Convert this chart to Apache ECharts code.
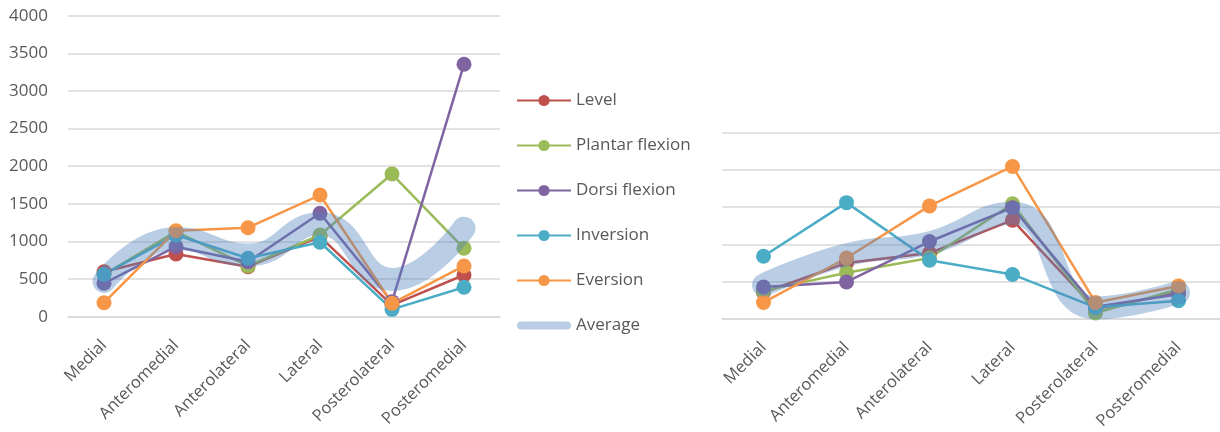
<!DOCTYPE html>
<html>
<head>
<meta charset="utf-8">
<script src="https://cdn.jsdelivr.net/npm/echarts@6/dist/echarts.min.js"></script>
<style>
  html, body { margin: 0; padding: 0; background: #fff; }
  #chart { width: 1220px; height: 432px; }
</style>
</head>
<body>
<div id="chart"></div>
<script>
// 分区名称
const categories = ['Medial', 'Anteromedial', 'Anterolateral', 'Lateral', 'Posterolateral', 'Posteromedial']
const seriesNames = ['Level', 'Plantar flexion', 'Dorsi flexion', 'Inversion', 'Eversion', 'Average']
const leftTicks = [0, 500, 1000, 1500, 2000, 2500, 3000, 3500, 4000]

// 左图数据
const leftLevel = [598, 833, 665, 1063, 155, 554]
const leftPlantar = [560, 1130, 676, 1086, 1896, 909]
const leftDorsi = [444, 930, 731, 1374, 200, 3354]
const leftInversion = [563, 1086, 776, 989, 98, 391]
const leftEversion = [186, 1143, 1183, 1617, 178, 674]
const leftAverage = [468, 1040, 820, 1235, 495, 1176]

// 右图数据
const rightLevel = [354, 752, 884, 1326, 133, 354]
const rightPlantar = [376, 619, 818, 1547, 80, 398]
const rightDorsi = [429, 496, 1039, 1494, 164, 332]
const rightInversion = [841, 1561, 788, 597, 155, 244]
const rightEversion = [221, 818, 1517, 2047, 221, 443]
const rightAverage = [455, 860, 1020, 1420, 148, 354]

const colors = ['#c0504d', '#9bbb59', '#8064a2', '#4bacc6', '#f79646', 'rgba(79,129,189,0.4)']
const textColor = '#595959'
const gridColor = '#d9d9d9'
const fontFamily = 'Open Sans'

const chartInstance = echarts.init(document.getElementById('chart'), null, { renderer: 'canvas' })

function makeSeries(data, idx, axisIdx) {
  if (idx === 5) {
    return {
      name: seriesNames[idx],
      type: 'line',
      xAxisIndex: axisIdx,
      yAxisIndex: axisIdx,
      data: data,
      smooth: 0.5,
      symbol: 'none',
      color: colors[idx],
      lineStyle: { width: 23, color: colors[idx], cap: 'round', join: 'round' },
      z: 3
    }
  }
  return {
    name: seriesNames[idx],
    type: 'line',
    xAxisIndex: axisIdx,
    yAxisIndex: axisIdx,
    data: data,
    symbol: 'circle',
    symbolSize: 15,
    color: colors[idx],
    lineStyle: { width: 2.5, color: colors[idx] },
    itemStyle: { color: colors[idx] },
    z: 2
  }
}

const leftData = [leftLevel, leftPlantar, leftDorsi, leftInversion, leftEversion, leftAverage]
const rightData = [rightLevel, rightPlantar, rightDorsi, rightInversion, rightEversion, rightAverage]

const series = []
leftData.forEach((d, i) => series.push(makeSeries(d, i, 0)))
rightData.forEach((d, i) => series.push(makeSeries(d, i, 1)))

const xAxisBase = {
  type: 'category',
  data: categories,
  boundaryGap: true,
  axisTick: { show: false },
  axisLine: { lineStyle: { color: gridColor, width: 1.5 } },
  axisLabel: {
    rotate: 45,
    interval: 0,
    color: textColor,
    fontSize: 16.5,
    fontFamily: fontFamily,
    margin: 26
  }
}

const option = {
  backgroundColor: '#fff',
  animation: false,
  grid: [
    { left: 68, top: 15.7, width: 432, height: 301 },
    { left: 722, top: 132.7, width: 500, height: 189 }
  ],
  legend: {
    orient: 'vertical',
    left: 511,
    top: 87,
    itemWidth: 54,
    itemHeight: 14,
    itemGap: 28,
    textStyle: { color: textColor, fontSize: 17, fontFamily: fontFamily },
    data: seriesNames.map((n, i) => i === 5
      ? { name: n, icon: 'path://M0,0M54,14M4,3h46a4,4 0 0 1 0,8h-46a4,4 0 0 1 0,-8z' }
      : { name: n })
  },
  xAxis: [
    Object.assign({}, xAxisBase, { gridIndex: 0 }),
    Object.assign({}, xAxisBase, { gridIndex: 1, axisLabel: Object.assign({}, xAxisBase.axisLabel, { margin: 26 }) })
  ],
  yAxis: [
    {
      gridIndex: 0,
      type: 'value',
      min: leftTicks[0],
      max: leftTicks[leftTicks.length - 1],
      interval: 500,
      axisLine: { show: false },
      axisTick: { show: false },
      axisLabel: { color: textColor, fontSize: 17, fontFamily: fontFamily, margin: 20, formatter: v => String(v) },
      splitLine: { lineStyle: { color: gridColor, width: 1.5 } }
    },
    {
      gridIndex: 1,
      type: 'value',
      min: 0,
      max: 2500,
      interval: 500,
      axisLine: { show: false },
      axisTick: { show: false },
      axisLabel: { show: false },
      splitLine: { lineStyle: { color: gridColor, width: 1.5 } }
    }
  ],
  series: series
}

chartInstance.setOption(option)
</script>
</body>
</html>
